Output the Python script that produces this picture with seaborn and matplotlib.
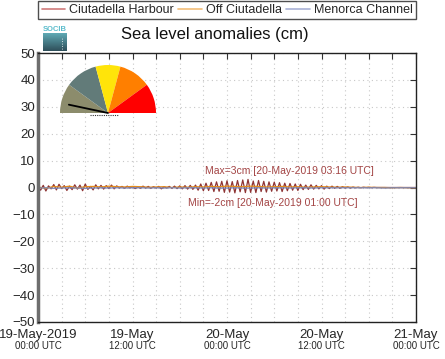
import numpy as np
import pandas as pd
import matplotlib
matplotlib.use("Agg")
import matplotlib.pyplot as plt
import matplotlib.dates as mdates
from matplotlib.patches import Wedge
from matplotlib.lines import Line2D
import seaborn as sns

sns.set_theme(style="white")
plt.rcParams['font.family'] = ['Liberation Sans', 'DejaVu Sans']

# ---------------- data ----------------
series_names = ["Ciutadella Harbour", "Off Ciutadella", "Menorca Channel"]
series_colors = ["#8e3434", "#e48c1c", "#7a86b8"]
legend_colors = ["#cf7a7a", "#f2bd78", "#a9b1d6"]

start_time = "2019-05-19 00:00"

# Ciutadella Harbour, every 20 min
harbour = [0.3, -1.0, 0.8, -1.3, 0.6, -0.5, 1.1, -0.9, 1.2, -0.4, 0.7, -1.1, 0.5, -0.8, 1.0, -0.6, 0.9, -1.2, 1.3, -0.7,
           0.4, -0.9, 1.0, -0.5, 0.8, -0.6, 0.7, -0.4, 0.9, -0.5, 0.6,
           -0.2, 0.4, -0.3, 0.5, -0.2, 0.3, -0.4, 0.2, -0.3, 0.5, -0.2, 0.4, -0.3, 0.3, -0.2, 0.4, -0.5, 0.3, -0.2, 0.4,
           -0.3, 0.5, -0.4, 0.6, -0.5, 0.7, -0.6, 0.8, -0.7,
           0.9, -1.0, 1.3, -1.2, 1.6, -1.1, 1.9, -1.5, 2.1, -1.4, 2.3, -1.8, 2.5, -1.7, 2.2, -2.0, 2.6, -1.6, 2.8, -1.9,
           3.0, -1.8, 2.4, -1.9, 2.6, -1.5, 2.3, -1.7, 2.1, -1.4, 2.0, -1.3, 1.8, -1.5, 1.6, -1.2, 1.5, -1.0, 1.3, -1.1, 1.2,
           -0.8, 0.9, -0.7, 1.0, -0.6, 0.8, -0.5, 0.7, -0.6, 0.5, -0.4, 0.5, -0.3, 0.4, -0.3, 0.3, -0.2,
           0.2, -0.2, 0.15, -0.1, 0.1, -0.1, 0.1, -0.05, 0.05, -0.05, 0.05, 0.0, 0.0, 0.0, 0.0, 0.0, 0.0, 0.0, 0.0, 0.0,
           0.0, 0.0, 0.0, 0.0, 0.0, 0.0, 0.0]

# Off Ciutadella, hourly
off_ciutadella = [0.2, -0.3, 0.4, 0.1, 0.5, -0.2, 0.3, 0.4, 0.2, 0.5, 0.3, 0.2, 0.4, 0.3, 0.1, 0.2, 0.3, 0.0, 0.2, 0.1,
                  0.3, 0.2, 0.4, 0.3, 0.5, 0.4, 0.3, 0.5, 0.4, 0.2, 0.3, 0.4, 0.2, 0.3, 0.1, 0.2, 0.3, 0.2, 0.1, 0.2,
                  0.1, 0.0, 0.1, 0.0, 0.0, -0.1, 0.0, -0.1, -0.1]

# Menorca Channel, hourly
menorca = [-0.2, -0.1, -0.3, -0.2, -0.1, -0.2, -0.3, -0.2, -0.1, -0.2, -0.1, -0.2, -0.1, -0.1, -0.2, -0.1, -0.2, -0.1, -0.2, -0.1,
           -0.1, -0.2, -0.1, -0.2, -0.2, -0.1, -0.2, -0.2, -0.1, -0.2, -0.1, -0.1, -0.2, -0.1, -0.1, -0.2, -0.1, -0.1, -0.1, -0.1,
           -0.1, -0.1, -0.1, -0.1, -0.2, -0.1, -0.1, -0.1, -0.1]

max_text = "Max=3cm [20-May-2019 03:16 UTC]"
min_text = "Min=-2cm [20-May-2019 01:00 UTC]"
title = "Sea level anomalies (cm)"
tick_line1 = ["19-May-2019", "19-May", "20-May", "20-May", "21-May"]
tick_line2 = ["00:00 UTC", "12:00 UTC", "00:00 UTC", "12:00 UTC", "00:00 UTC"]

frames = [
    pd.DataFrame({"time": pd.date_range(start_time, periods=len(harbour), freq="20min"),
                  "value": harbour, "series": series_names[0]}),
    pd.DataFrame({"time": pd.date_range(start_time, periods=len(off_ciutadella), freq="60min"),
                  "value": off_ciutadella, "series": series_names[1]}),
    pd.DataFrame({"time": pd.date_range(start_time, periods=len(menorca), freq="60min"),
                  "value": menorca, "series": series_names[2]}),
]
df = pd.concat(frames, ignore_index=True)

# ---------------- figure ----------------
W, H = 445, 359
fig = plt.figure(figsize=(W / 100, H / 100), dpi=100)
fig.patch.set_facecolor("white")

def fr(x0, y0, x1, y1):
    return [x0 / W, 1 - y1 / H, (x1 - x0) / W, (y1 - y0) / H]

ax = fig.add_axes(fr(38, 53, 416, 322))
sns.lineplot(data=df, x="time", y="value", hue="series", hue_order=series_names,
             palette=series_colors, linewidth=0.9, ax=ax, legend=False, estimator=None)

t0 = pd.Timestamp(start_time)
t1 = t0 + pd.Timedelta(hours=48)
ax.set_xlim(t0, t1)
ax.set_ylim(-50, 50)
ax.set_yticks(np.arange(-50, 51, 10))
ax.set_xlabel("")
ax.set_ylabel("")

major = pd.date_range(t0, t1, freq="12h")
ax.set_xticks(major)
ax.set_xticklabels(tick_line1, fontsize=9.5)
ax.xaxis.set_minor_locator(mdates.HourLocator(byhour=range(0, 24, 3)))
ax.tick_params(axis="both", which="both", direction="in", top=True, right=True, length=4,
               width=0.8, color="#333333")
ax.tick_params(axis="x", pad=5)
ax.tick_params(axis="y", labelsize=9.5, pad=2)
ax.grid(True, which="both", linestyle=(0, (1, 3)), color="#c8c8c8", linewidth=0.8)
for tl, lab in zip(major, tick_line2):
    ax.annotate(lab, xy=(tl, 0), xycoords=("data", "axes fraction"),
                xytext=(0, -14), textcoords="offset points", ha="center", va="top", fontsize=7)

for s in ["top", "right", "bottom"]:
    ax.spines[s].set_color("#222222")
    ax.spines[s].set_linewidth(1.0)
ax.spines["left"].set_color("#6e6e6e")
ax.spines["left"].set_linewidth(2.5)

ax.text(t0 + pd.Timedelta(hours=21.2), 6.0, max_text, color="#a34444", fontsize=7.5, va="center", ha="left")
ax.text(t0 + pd.Timedelta(hours=19.0), -5.6, min_text, color="#a34444", fontsize=7.5, va="center", ha="left")

# legend
handles = [Line2D([0], [0], color=c, lw=1.2) for c in legend_colors]
leg = fig.legend(handles, series_names, loc="upper center", bbox_to_anchor=(227 / W, 1 - 1 / H),
                 ncol=3, fontsize=9, frameon=True, fancybox=False, handlelength=1.9,
                 handletextpad=0.3, columnspacing=0.35, borderpad=0.25, borderaxespad=0.0)
leg.get_frame().set_edgecolor("#222222")
leg.get_frame().set_linewidth(1.0)

fig.text(215 / W, 1 - 35 / H, title, ha="center", va="center", fontsize=12, color="#111111")

# SOCIB logo
lax = fig.add_axes(fr(43, 27, 67, 51))
lax.set_xlim(0, 1)
lax.set_ylim(0, 1)
lax.axis("off")
grad = np.linspace(0, 1, 50).reshape(-1, 1)
cmap = matplotlib.colors.LinearSegmentedColormap.from_list("socib", ["#5fa9b4", "#2f4f5a"])
lax.imshow(grad, extent=[0, 1, 0, 0.72], aspect="auto", cmap=cmap)
lax.text(0.5, 0.88, "SOCIB", color="#5bbccc", fontsize=5.5, ha="center", va="center", fontweight="bold")
lax.plot([0.78, 0.78], [0.1, 0.6], color="white", lw=0.6, ls=(0, (1, 2)))

# gauge inset
gax = fig.add_axes(fr(56, 60, 160, 118))
gax.set_xlim(-52, 52)
gax.set_ylim(-5, 53)
gax.axis("off")
gauge_colors = ["#8c8c6c", "#627b79", "#ffe40a", "#ff7f00", "#ff0000"]
gauge_angles = [(144, 180), (105, 144), (75, 105), (36, 75), (0, 36)]
for (a0, a1), c in zip(gauge_angles, gauge_colors):
    gax.add_patch(Wedge((0, 0), 48, a0, a1, facecolor=c, edgecolor="none"))
ang = np.deg2rad(168)
gax.plot([0, 40 * np.cos(ang)], [0, 40 * np.sin(ang)], color="black", lw=1.3)
gax.plot([-18, 10], [-2, -2], color="#333333", lw=0.8, ls=(0, (1, 1)))

fig.savefig("out.png", dpi=100)
